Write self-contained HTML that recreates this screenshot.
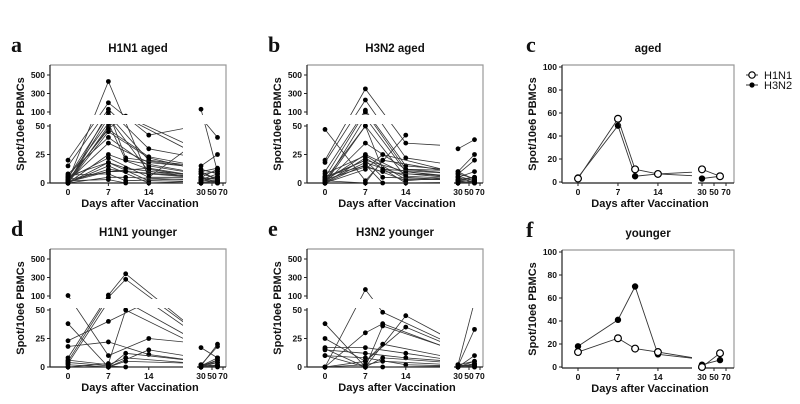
<!DOCTYPE html>
<html><head><meta charset="utf-8"><style>
body{margin:0;background:#fff}
svg{display:block;font-family:"Liberation Sans",sans-serif}
.tk{font-size:8.5px;font-weight:bold;fill:#111}
.at{font-size:11px;font-weight:bold;fill:#111}
.tt{font-size:11.5px;font-weight:bold;fill:#111}
.lt{font-family:"Liberation Serif",serif;font-size:22px;font-weight:bold;fill:#111}
</style></head><body>
<svg id="fig" width="800" height="404" viewBox="0 0 800 404" xmlns="http://www.w3.org/2000/svg"></svg>
<script>
// days: 0,7,10,14,30,60
const days = [0, 7, 10, 14, 30, 60];
const h1n1Aged = [
[2,430,null,5,130,10],[20,200,null,42,80,40],[15,130,null,30,15,25],[5,90,null,20,10,13],
[0,80,null,10,5,12],[3,47,null,23,8,10],[0,45,null,22,3,8],[8,40,null,15,2,5],
[2,35,null,18,10,3],[0,25,null,12,0,2],[4,22,null,5,5,0],[6,18,null,2,1,1],
[0,15,null,0,3,0],[1,12,null,8,2,5],[3,10,null,13,0,2],[0,50,85,null,12,8],
[2,48,80,null,5,3],[0,100,22,null,8,4],[5,60,20,null,2,6],[0,18,13,null,0,0],
[1,10,10,null,3,2],[0,5,5,null,1,1],[2,3,0,null,0,0],[7,8,2,null,5,12]];
const h3n2Aged = [
[47,2,null,42,null,null],[20,350,null,35,30,38],[18,230,null,22,10,25],[10,120,null,15,8,20],
[5,100,null,12,5,10],[0,80,null,10,2,5],[3,50,null,5,0,2],[0,35,null,12,10,3],
[2,25,null,8,5,0],[8,24,null,3,3,5],[0,22,null,0,1,1],[4,20,null,10,0,2],
[1,18,null,6,2,0],[6,15,null,2,8,4],[0,12,25,null,0,1],[2,0,20,null,3,5],
[0,50,12,null,6,2],[3,14,10,null,1,0],[5,20,5,null,2,3],[0,16,0,null,0,0]];
const h1n1Young = [
[105,10,null,25,17,8],[38,0,null,15,2,18],[23,40,null,80,1,20],[18,22,null,11,0,6],
[8,110,340,null,0,4],[5,95,280,null,2,1],[3,80,80,null,1,8],[0,3,50,null,0,2],
[2,0,12,null,1,6],[6,2,8,null,0,0],[0,0,5,null,2,4],[4,1,0,null,0,1]];
const h3n2Young = [
[38,0,null,45,2,80],[25,5,null,35,1,33],[17,17,null,12,0,10],[15,12,null,8,2,5],
[10,8,null,2,0,3],[0,170,48,null,1,1],[0,30,38,null,0,5],[16,0,36,null,2,0],
[0,5,20,null,0,3],[10,0,8,null,1,1],[0,2,5,null,0,0],[0,0,0,null,1,2]];
const agedH1N1 = [3,55,11,7,11,5];
const agedH3N2 = [4,49,5,7,3,5];
const youngH1N1 = [13,25,16,13,0,12];
const youngH3N2 = [18,41,70,11,2,6];
const yTicksLow = [0,25,50];
const yTicksHigh = [100,300,500];
const yTicksMean = [0,20,40,60,80,100];
const xTicks = [0,7,14,30,50,70];

const NS="http://www.w3.org/2000/svg";
const fig=document.getElementById('fig');
function mk(tag,attrs,parent,name){const e=document.createElementNS(NS,tag);for(const k in attrs)e.setAttribute(k,attrs[k]);


(parent||fig).appendChild(e);return e;}
function txt(s,x,y,cls,anchor,parent,name){const t=mk('text',{x:x,y:y,class:cls,'text-anchor':anchor||'middle'},parent,name);t.textContent=s;return t;}
let clipId=0;
function clip(x,y,w,h){const id='c'+(clipId++);const cp=mk('clipPath',{id:id},null,'clip');mk('rect',{x:x,y:y,width:w,height:h},cp,'clip-rect');return 'url(#'+id+')';}

function xA(d,dx){return dx+68+d*5.77;}
function xB(d,dx){return dx+201+(d-30)*0.55;}

function frame(dx,dy,L,R,brk,brk2,title,letter,letterX,titleX,yBreak){
  txt(letter,letterX,dy+52,'lt','start',null,'panel-letter');
  txt(title,titleX,dy+52,'tt','middle',null,'panel-title');
  const top=dy+65,bot=dy+183;
  mk('path',{d:`M${L},${top}H${R}V${bot}`,stroke:'#999',fill:'none','stroke-width':1.2},null,'plot-frame');
  mk('path',{d:`M${L},${bot}H${brk}M${brk2},${bot}H${R}`,stroke:'#222','stroke-width':1.2,fill:'none'},null,'x-axis');
  if(yBreak){
    mk('path',{d:`M${L},${top}V${dy+115}M${L},${dy+124}V${bot}`,stroke:'#222','stroke-width':1.2,fill:'none'},null,'y-axis');
  } else mk('path',{d:`M${L},${top}V${bot}`,stroke:'#222','stroke-width':1.2,fill:'none'},null,'y-axis');
  txt('Days after Vaccination',(L+R)/2+2,dy+207,'at','middle',null,'x-axis-title');
  const yt=txt('Spot/10e6 PBMCs',0,0,'at','middle',null,'y-axis-title');
  yt.setAttribute('transform',`translate(${L-26},${dy+124}) rotate(-90)`);
}
function xticks(dx,dy){
  xTicks.forEach(d=>{const x=d<30?xA(d,dx):xB(d,dx);
    mk('line',{x1:x,x2:x,y1:dy+183,y2:dy+186,stroke:'#222'},null,'x-tick');
    txt(String(d),x,dy+195,'tk','middle',null,'x-tick-label');});
}
function spaghetti(data,dx,dy,title,letter,titleX){
  const L=dx+50,R=dx+226,brk=dx+183,brk2=dx+197;
  frame(dx,dy,L,R,brk,brk2,title,letter,dx+11,titleX,true);
  const ys=v=>v<=50?dy+183-v*1.14:(v<100?dy+126-(v-50)*0.28:dy+112-(v-100)*0.0925);
  yTicksLow.concat(yTicksHigh).forEach(v=>{const y=ys(v);mk('line',{x1:L-3,x2:L,y1:y,y2:y,stroke:'#222'},null,'y-tick');txt(String(v),L-5,y+3,'tk','end',null,'y-tick-label');});
  xticks(dx,dy);
  const regions=[[clip(L,dy+60,brk-L,55),'A'],[clip(L,dy+124,brk-L,62),'A'],
    [clip(brk2,dy+60,R-brk2+3,55),'B'],[clip(brk2,dy+124,R-brk2+3,62),'B']];
  regions.forEach(([cp,part])=>{
    const g=mk('g',{'clip-path':cp},null,'series-group');
    data.forEach(s=>{
      const pts=[];s.forEach((v,i)=>{if(v!==null)pts.push([days[i],v]);});
      let d='';
      for(let k=0;k<pts.length-1;k++){
        const [d1,v1]=pts[k],[d2,v2]=pts[k+1];
        if(part==='A'&&d1<30){d+=`M${xA(d1,dx)},${ys(v1)}L${xA(d2,dx)},${ys(v2)}`;}
        if(part==='B'&&d1>=30){d+=`M${xB(d1,dx)},${ys(v1)}L${xB(d2,dx)},${ys(v2)}`;}
      }
      if(d)mk('path',{d:d,stroke:'#333','stroke-width':0.8,fill:'none'},g,'subject-line');
      pts.forEach(([dd,v])=>{const inA=dd<30;if((part==='A')!==inA)return;
        mk('circle',{cx:inA?xA(dd,dx):xB(dd,dx),cy:ys(v),r:2.4,fill:'#000'},g,'subject-point');});
    });
  });
}
function meanPanel(open,filled,dy,title,letter,legend){
  const dx=512;
  const L=dx+50,R=dx+222,brk=dx+180,brk2=dx+186;
  frame(dx,dy,L,R,brk,brk2,title,letter,dx+14,648,false);
  const ys=v=>dy+182-v*1.15;
  yTicksMean.forEach(v=>{const y=ys(v);mk('line',{x1:L-3,x2:L,y1:y,y2:y,stroke:'#222'},null,'y-tick');txt(String(v),L-5,y+3,'tk','end',null,'y-tick-label');});
  const xa=d=>578+d*5.71, xb=d=>702+(d-30)*0.6;
  xTicks.forEach(d=>{const x=d<30?xa(d):xb(d);mk('line',{x1:x,x2:x,y1:dy+183,y2:dy+186,stroke:'#222'},null,'x-tick');txt(String(d),x,dy+195,'tk','middle',null,'x-tick-label');});
  const cA=clip(L,dy+60,brk-L,130),cB=clip(brk2,dy+60,R-brk2+4,130);
  [[filled,true],[open,false]].forEach(([s,f])=>{
    let dA='',dB='';
    for(let k=0;k<s.length-1;k++){
      if(days[k]<30)dA+=`M${xa(days[k])},${ys(s[k])}L${xa(days[k+1])},${ys(s[k+1])}`;
      else dB+=`M${xb(days[k])},${ys(s[k])}L${xb(days[k+1])},${ys(s[k+1])}`;
    }
    mk('path',{d:dA,stroke:'#333','stroke-width':0.9,fill:'none','clip-path':cA},null,f?'h3n2-line':'h1n1-line');
    mk('path',{d:dB,stroke:'#333','stroke-width':0.9,fill:'none','clip-path':cB},null,f?'h3n2-line':'h1n1-line');
    s.forEach((v,i)=>{const x=days[i]<30?xa(days[i]):xb(days[i]);
      mk('circle',{cx:x,cy:ys(v),r:f?2.6:3.4,fill:f?'#000':'#fff',stroke:'#000','stroke-width':1.2},null,f?'h3n2-point':'h1n1-point');});
  });
  if(legend){
    mk('line',{x1:746,x2:758,y1:75,y2:75,stroke:'#333'},null,'legend-line');
    mk('circle',{cx:752,cy:75,r:3.2,fill:'#fff',stroke:'#000','stroke-width':1.2},null,'legend-marker');
    txt('H1N1',764,79,'at','start',null,'legend-entry-h1n1').style.fontWeight='normal';
    mk('line',{x1:746,x2:758,y1:85,y2:85,stroke:'#333'},null,'legend-line');
    mk('circle',{cx:752,cy:85,r:2.6,fill:'#000'},null,'legend-marker');
    txt('H3N2',764,89,'at','start',null,'legend-entry-h3n2').style.fontWeight='normal';
  }
}
spaghetti(h1n1Aged,0,0,'H1N1 aged','a',138);
spaghetti(h3n2Aged,257,0,'H3N2 aged','b',395);
meanPanel(agedH1N1,agedH3N2,0,'aged','c',true);
spaghetti(h1n1Young,0,184,'H1N1 younger','d',138);
spaghetti(h3n2Young,257,184,'H3N2 younger','e',395);
meanPanel(youngH1N1,youngH3N2,185,'younger','f',false);
</script>
</body></html>
